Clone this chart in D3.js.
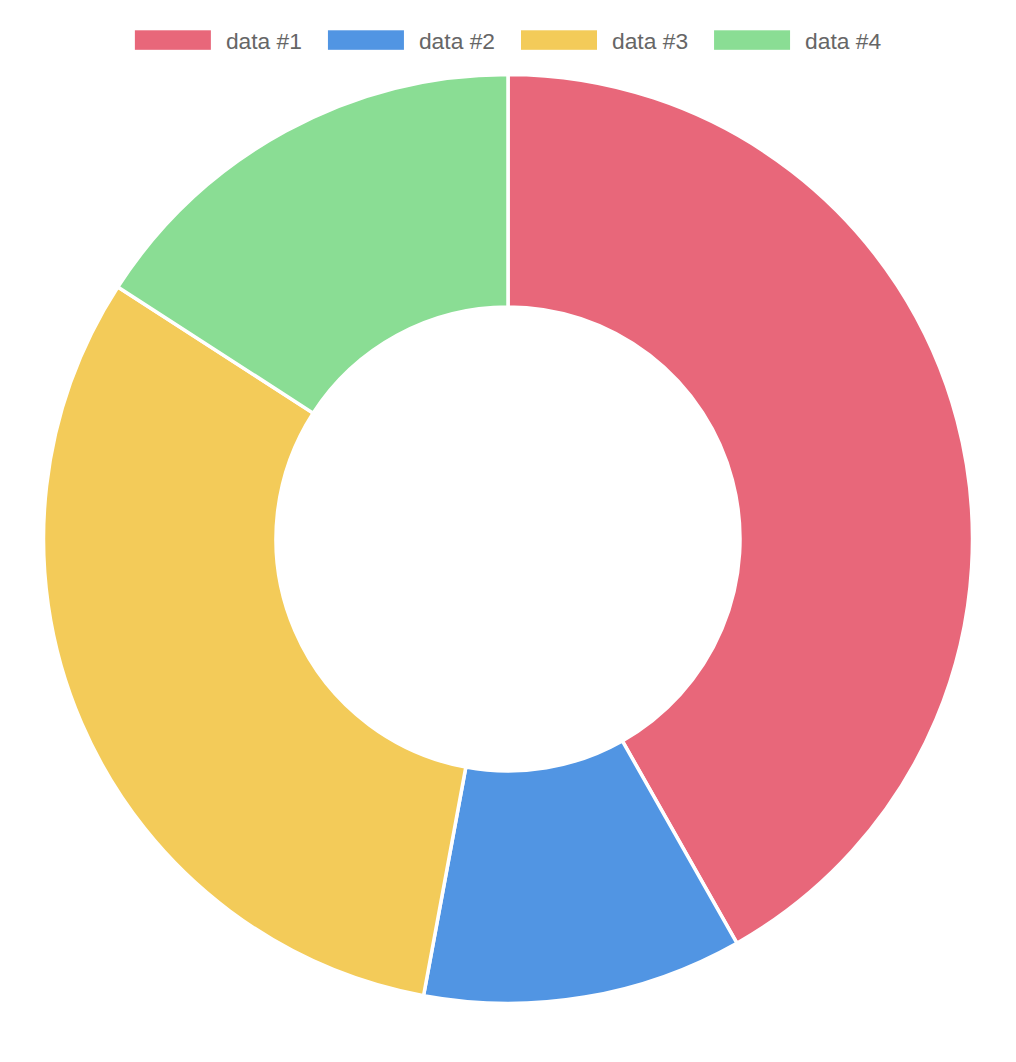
<!DOCTYPE html>
<html>
<head>
<meta charset="utf-8">
<script src="https://cdn.jsdelivr.net/npm/d3@7"></script>
<style>
  html, body { margin: 0; padding: 0; background: #fff; }
</style>
</head>
<body>
<div class="main-doughnut"></div>
<script>
// chart data
const labels = ["data #1", "data #2", "data #3", "data #4"];
const values = [79, 21, 59, 30];
const colors = ["#e8677a", "#5195e3", "#f3cb59", "#8add94"];

const width = 1016;
const height = 1062;
const cx = 508, cy = 539;
const outerR = 464.5;
const innerR = 232;

const svg = d3.select(".main-doughnut").append("svg")
    .attr("width", width)
    .attr("height", height);

// doughnut
const pie = d3.pie().sort(null).value((d) => d);
const arc = d3.arc().innerRadius(innerR).outerRadius(outerR);

svg.append("g")
    .attr("transform", `translate(${cx}, ${cy})`)
    .selectAll("path")
    .data(pie(values))
    .join("path")
    .attr("d", arc)
    .attr("fill", (d, i) => colors[i])
    .attr("stroke", "#fff")
    .attr("stroke-width", 3.5);

// legend, centered above the chart
const boxW = 76, boxH = 19.5, textGap = 15, itemGap = 26;
const legend = svg.append("g");
const items = legend.selectAll("g")
    .data(labels)
    .join("g");

items.append("rect")
    .attr("y", 30.3)
    .attr("width", boxW)
    .attr("height", boxH)
    .attr("fill", (d, i) => colors[i]);

items.append("text")
    .attr("x", boxW + textGap)
    .attr("y", 48.5)
    .attr("font-family", "'Liberation Sans', Arial, Helvetica, sans-serif")
    .attr("font-size", 22.8)
    .attr("fill", "#666")
    .text((d) => d);

let x = 0;
const widths = [];
items.each(function () {
    const tw = d3.select(this).select("text").node().getComputedTextLength();
    widths.push(boxW + textGap + tw);
});
const total = d3.sum(widths) + itemGap * (widths.length - 1);
x = cx - total / 2;
items.attr("transform", (d, i) => {
    const t = `translate(${x}, 0)`;
    x += widths[i] + itemGap;
    return t;
});
</script>
</body>
</html>
